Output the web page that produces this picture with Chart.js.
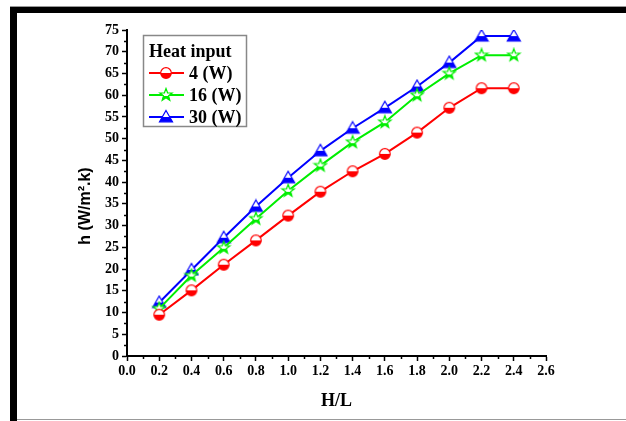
<!DOCTYPE html>
<html>
<head>
<meta charset="utf-8">
<script src="https://cdn.jsdelivr.net/npm/chart.js@4/dist/chart.umd.min.js"></script>
<style>
html,body{margin:0;padding:0;background:#fff;}
#wrap{width:626px;height:421px;}
</style>
</head>
<body>
<div id="wrap"><canvas id="c" width="626" height="421"></canvas></div>
<script>
// ---- data ----
const hOverL = [0.2, 0.4, 0.6, 0.8, 1.0, 1.2, 1.4, 1.6, 1.8, 2.0, 2.2, 2.4];
const h4W  = [9.5, 15.1, 21.0, 26.6, 32.3, 37.8, 42.5, 46.5, 51.4, 57.1, 61.6, 61.6];
const h16W = [10.9, 18.5, 24.9, 31.6, 38.0, 43.8, 49.2, 53.8, 60.0, 65.0, 69.2, 69.2];
const h30W = [12.3, 19.8, 27.2, 34.4, 41.0, 47.2, 52.4, 57.1, 62.0, 67.5, 73.6, 73.6];
const seriesLabels = ['4 (W)', '16 (W)', '30 (W)'];
const legendTitle = 'Heat input';
const xTitle = 'H/L';
const yTitle = 'h (W/m\u00B2.k)';

const RED = '#ff0000', GREEN = '#00ee00', BLUE = '#0000ff';

function makeMarker(type, color) {
  const s = 16, c = document.createElement('canvas');
  c.width = s; c.height = s;
  const g = c.getContext('2d');
  const cx = s / 2, cy = s / 2;
  function path() {
    g.beginPath();
    if (type === 'circle') {
      g.arc(cx, cy, 5.3, 0, Math.PI * 2);
    } else if (type === 'triangle') {
      g.moveTo(cx, cy - 6.5); g.lineTo(cx + 6.5, cy + 4.8); g.lineTo(cx - 6.5, cy + 4.8); g.closePath();
    } else {
      for (let i = 0; i < 10; i++) {
        const r = i % 2 === 0 ? 6.5 : 2.7;
        const a = -Math.PI / 2 + i * Math.PI / 5;
        const px = cx + r * Math.cos(a), py = cy + r * Math.sin(a);
        if (i === 0) g.moveTo(px, py); else g.lineTo(px, py);
      }
      g.closePath();
    }
  }
  path(); g.fillStyle = '#fff'; g.fill();
  g.save(); path(); g.clip();
  g.fillStyle = color;
  g.fillRect(0, type === 'star' ? cy + 1 : cy, s, s);
  g.restore();
  path(); g.strokeStyle = color; g.lineWidth = 1.2; g.stroke();
  return c;
}
const mRed = makeMarker('circle', RED);
const mGreen = makeMarker('star', GREEN);
const mBlue = makeMarker('triangle', BLUE);

function pts(ys) { return hOverL.map((x, i) => ({ x: x, y: ys[i] })); }

const serif = '"Liberation Serif", "Times New Roman", serif';
const sans = '"Liberation Sans", Arial, sans-serif';

const decor = {
  id: 'decor',
  beforeDraw(chart) {
    const g = chart.ctx;
    g.save();
    g.fillStyle = '#fff'; g.fillRect(0, 0, 626, 421);
    g.fillStyle = '#000';
    g.fillRect(10, 7, 616, 6);
    g.fillRect(10, 7, 7, 414);
    g.fillStyle = '#999';
    g.fillRect(10, 6, 616, 1);
    g.fillRect(17, 419, 609, 1);
    g.restore();
  },
  afterDraw(chart) {
    const g = chart.ctx;
    const xs = chart.scales.x, ys = chart.scales.y;
    const a = chart.chartArea;
    g.save();
    g.strokeStyle = '#000'; g.lineWidth = 1.5;
    // minor ticks
    for (let v = 0.1; v < 2.6; v += 0.2) {
      const px = Math.round(xs.getPixelForValue(v)) + 0.5;
      g.beginPath(); g.moveTo(px, a.bottom); g.lineTo(px, a.bottom + 3); g.stroke();
    }
    for (let v = 2.5; v < 75; v += 5) {
      const py = Math.round(ys.getPixelForValue(v)) + 0.5;
      g.beginPath(); g.moveTo(a.left, py); g.lineTo(a.left - 3, py); g.stroke();
    }
    // y title
    g.translate(86, 206);
    g.rotate(-Math.PI / 2);
    g.font = 'bold 16px ' + sans;
    g.fillStyle = '#000'; g.textAlign = 'center'; g.textBaseline = 'middle';
    g.fillText(yTitle, 0, 0);
    g.restore();

    // legend
    g.save();
    g.fillStyle = '#fff';
    g.fillRect(143, 35, 103, 91);
    g.strokeStyle = '#888'; g.lineWidth = 1.5;
    g.strokeRect(143.5, 35.5, 103, 91);
    g.fillStyle = '#000';
    g.font = 'bold 18px ' + serif;
    g.textBaseline = 'middle'; g.textAlign = 'left';
    g.fillText(legendTitle, 149, 52);
    const ds = chart.data.datasets;
    const rows = [73, 95, 117];
    ds.forEach((d, i) => {
      const y = rows[i];
      g.strokeStyle = d.borderColor; g.lineWidth = 2;
      g.beginPath(); g.moveTo(149, y); g.lineTo(184, y); g.stroke();
      g.drawImage(d.pointStyle, 166 - 8, y - 8);
      g.fillStyle = '#000';
      g.fillText(d.label, 189, y + 1);
    });
    g.restore();
  }
};

new Chart(document.getElementById('c'), {
  type: 'line',
  data: {
    datasets: [
      { label: seriesLabels[0], data: pts(h4W), borderColor: RED, backgroundColor: RED, pointStyle: mRed, borderWidth: 2 },
      { label: seriesLabels[1], data: pts(h16W), borderColor: GREEN, backgroundColor: GREEN, pointStyle: mGreen, borderWidth: 2 },
      { label: seriesLabels[2], data: pts(h30W), borderColor: BLUE, backgroundColor: BLUE, pointStyle: mBlue, borderWidth: 2 }
    ]
  },
  options: {
    responsive: false,
    animation: false,
    layout: { padding: { left: 0, top: 30, right: 80, bottom: 0 } },
    plugins: { legend: { display: false }, tooltip: { enabled: false } },
    scales: {
      x: {
        type: 'linear', min: 0, max: 2.6,
        afterFit(s) { s.height = 65; },
        ticks: {
          stepSize: 0.2, color: '#000', padding: 2, maxRotation: 0, autoSkip: false,
          font: { family: serif, weight: 'bold', size: 14 },
          callback: v => Number(v).toFixed(1)
        },
        grid: { drawOnChartArea: false, tickLength: 5, tickColor: '#000', tickWidth: 1.5 },
        border: { color: '#000', width: 2 },
        title: { display: true, text: xTitle, color: '#000', font: { family: serif, weight: 'bold', size: 18 }, padding: { top: 4, bottom: 9 } }
      },
      y: {
        min: 0, max: 75,
        afterFit(s) { s.width = 127; },
        ticks: {
          stepSize: 5, color: '#000', padding: 3,
          font: { family: serif, weight: 'bold', size: 14 }
        },
        grid: { drawOnChartArea: false, tickLength: 5, tickColor: '#000', tickWidth: 1.5 },
        border: { color: '#000', width: 2 }
      }
    }
  },
  plugins: [decor]
});
</script>
</body>
</html>
